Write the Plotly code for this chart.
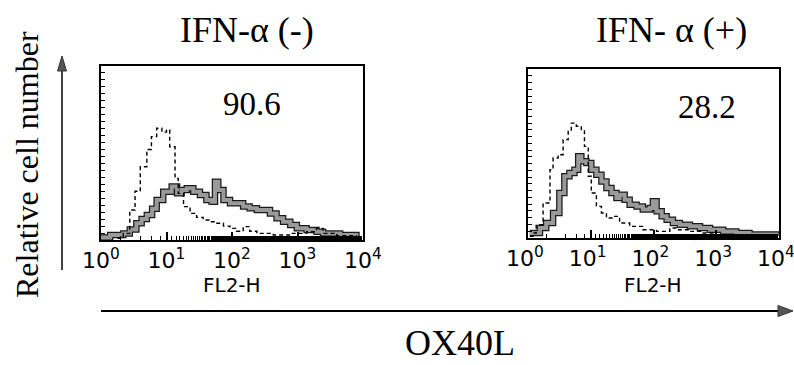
import plotly.graph_objects as go

# ---------------- data ----------------
# FL2-H channel values (log axis) and relative cell counts (0-100 scale)
left_ctrl_x = [1.78, 2.19, 2.75, 3.31, 3.98, 5.01, 5.89, 7.08, 8.51, 10, 11.2, 13.5, 15.1, 18.2,
               22.9, 28.8, 36.3, 45.7, 58.9, 74.1, 93.3, 117, 148, 186, 240, 302, 427, 776,
               1380, 1950, 2455, 3981, 7943]
left_ctrl_y = [1, 3.8, 17.2, 28, 42.1, 52, 59.4, 64.2, 62, 63.2, 53.6, 35.4, 26.8, 19.2,
               15.3, 13, 11.5, 10.5, 9.6, 8, 6.7, 5, 7.7, 5, 3.8, 3.8, 2.9, 3.8,
               4.8, 6.7, 3.8, 2.5, 1]

left_smp_x = [1.0, 1.38, 2.19, 2.75, 3.47, 4.17, 5.01, 6.03, 7.08, 8.91, 12.0, 14.5, 17.0, 20.4,
              25.7, 32.4, 40.7, 49.0, 55.0, 61.7, 74.1, 93.3, 117, 148, 186, 240, 302, 380,
              479, 603, 776, 977, 1380, 1950, 2455, 4467, 7943]
left_smp_y = [1.5, 2.9, 3.8, 6, 9.6, 12, 14.4, 18, 23.0, 27.8, 30.7, 26.8, 28.7, 29.7,
              27.8, 25.9, 23.0, 22.0, 33.5, 28.7, 23.0, 21.1, 21.1, 19.2, 18.2, 17.2, 17.2, 15.3,
              12.5, 10.5, 8.6, 6.7, 5.7, 4.8, 3.8, 2.9, 1.9]

right_ctrl_x = [1.07, 1.20, 1.35, 1.74, 2.24, 2.51, 3.02, 3.63, 4.37, 4.90, 5.89, 7.08, 7.94,
                9.12, 10.2, 12.3, 14.8, 17.8, 22.4, 28.8, 41.7, 67.6, 112, 182, 229, 380, 617,
                1000, 2512]
right_ctrl_y = [1, 3.0, 7.9, 20.7, 40.4, 47.3, 49.3, 58.2, 63.1, 68.0, 66.1, 64.1, 54.2,
                36.5, 26.6, 18.7, 14.8, 11.8, 12.8, 8.9, 6.9, 4.9, 3.9, 5.9, 4.9, 3.9, 3.0,
                2.0, 1.0]

right_smp_x = [1.07, 1.55, 1.95, 2.51, 3.16, 3.80, 4.57, 5.50, 6.31, 7.08, 8.51, 10.2, 12.3,
               14.8, 17.8, 21.4, 25.7, 28.8, 34.7, 41.7, 53.7, 67.6, 87.1, 97.7, 112, 135, 162,
               204, 263, 380, 550, 794, 1288, 2089, 3388, 9120]
right_smp_y = [3.0, 5.9, 8.9, 14.8, 26.6, 36.5, 38.5, 40.4, 48.3, 45.4, 44.4, 40.4, 37.5,
               33.5, 29.6, 26.6, 23.7, 25.6, 22.7, 19.7, 18.7, 16.8, 17.8, 21.7, 15.8, 12.8, 10.8,
               8.9, 7.9, 6.9, 5.9, 4.9, 3.9, 3.0, 2.0, 1.4]

tick_vals = [1, 10, 100, 1000, 10000]
tick_text = ["10<sup>0</sup>", "10<sup>1</sup>", "10<sup>2</sup>", "10<sup>3</sup>", "10<sup>4</sup>"]
titles = ["IFN-α (-)", "IFN- α (+)"]
percents = ["90.6", "28.2"]
axis_name = "FL2-H"
y_label = "Relative cell number"
x_label = "OX40L"

W, H = 794, 365
def px(x):
    return x / W
def py(y):
    return 1 - y / H

fig = go.Figure()

panels = [
    ("x", "y", left_ctrl_x, left_ctrl_y, left_smp_x, left_smp_y),
    ("x2", "y2", right_ctrl_x, right_ctrl_y, right_smp_x, right_smp_y),
]
for xa, ya, cx, cy, sx, sy in panels:
    fig.add_trace(go.Scatter(x=sx, y=sy, xaxis=xa, yaxis=ya, mode="lines",
                             line=dict(shape="hv", color="#1a1a1a", width=6.5),
                             hoverinfo="skip", showlegend=False))
    fig.add_trace(go.Scatter(x=sx, y=sy, xaxis=xa, yaxis=ya, mode="lines",
                             line=dict(shape="hv", color="#9a9a9a", width=4),
                             hoverinfo="skip", showlegend=False))
    fig.add_trace(go.Scatter(x=cx, y=cy, xaxis=xa, yaxis=ya, mode="lines",
                             line=dict(shape="hv", color="black", width=1.4, dash="4px,3px"),
                             hoverinfo="skip", showlegend=False))

xdomains = [(px(101), px(363)), (px(528), px(779))]
ydomains = [(py(240), py(66)), (py(238), py(69))]

common_x = dict(type="log", range=[0, 4], tickvals=tick_vals, ticktext=tick_text,
                ticks="inside", ticklen=8, tickwidth=1.5, tickcolor="black",
                minor=dict(ticks="inside", ticklen=4, tickwidth=1.2, tickcolor="black", showgrid=False),
                showline=True, linecolor="black", linewidth=1.5, mirror=True,
                showgrid=False, zeroline=False, ticklabeloverflow="allow",
                tickfont=dict(family="DejaVu Sans", size=22, color="black"))
common_y = dict(range=[0, 100], dtick=4, ticks="inside", ticklen=4, tickwidth=1, tickcolor="black",
                showticklabels=False, showline=True, linecolor="black", linewidth=1.5,
                mirror=True, showgrid=False, zeroline=False)

fig.update_layout(
    width=W, height=H, margin=dict(l=0, r=0, t=0, b=0, autoexpand=False),
    paper_bgcolor="white", plot_bgcolor="white",
    xaxis=dict(domain=list(xdomains[0]), anchor="y", **common_x),
    yaxis=dict(domain=list(ydomains[0]), anchor="x", **common_y),
    xaxis2=dict(domain=list(xdomains[1]), anchor="y2", ticklabelshift=-3, **common_x),
    yaxis2=dict(domain=list(ydomains[1]), anchor="x2", **common_y),
)

serif = "Liberation Serif"

def txt(x, y, text, family, size, angle=0):
    return dict(x=px(x), y=py(y), text=text, showarrow=False, xref="paper", yref="paper",
                xanchor="center", yanchor="middle", textangle=angle,
                font=dict(family=family, size=size, color="black"))

ann = [
    txt(247, 30, titles[0], serif, 36),
    txt(671, 30, titles[1], serif, 36),
    txt(252, 104, percents[0], serif, 33),
    txt(707, 107, percents[1], serif, 33),
    txt(232, 285, axis_name, "DejaVu Sans", 20),
    txt(653, 285, axis_name, "DejaVu Sans", 20),
    txt(27, 165, y_label, serif, 32, -90),
    txt(460, 343, x_label, serif, 36),
]
fig.update_layout(annotations=ann)

shapes = []
# vertical arrow
shapes.append(dict(type="line", xref="paper", yref="paper", x0=px(62), x1=px(62),
                   y0=py(270), y1=py(68), line=dict(color="black", width=1.5)))
shapes.append(dict(type="path", xref="paper", yref="paper",
                   path=f"M {px(62)},{py(56)} L {px(57.5)},{py(71)} L {px(66.5)},{py(71)} Z",
                   fillcolor="#555555", line=dict(color="#333333", width=1)))
# horizontal arrow
shapes.append(dict(type="line", xref="paper", yref="paper", x0=px(101), x1=px(782),
                   y0=py(311), y1=py(311), line=dict(color="black", width=1.8)))
shapes.append(dict(type="path", xref="paper", yref="paper",
                   path=f"M {px(793)},{py(311)} L {px(778)},{py(305.5)} L {px(778)},{py(316.5)} Z",
                   fillcolor="#555555", line=dict(color="#333333", width=1)))
fig.update_layout(shapes=shapes)

fig.write_html("out.html")
